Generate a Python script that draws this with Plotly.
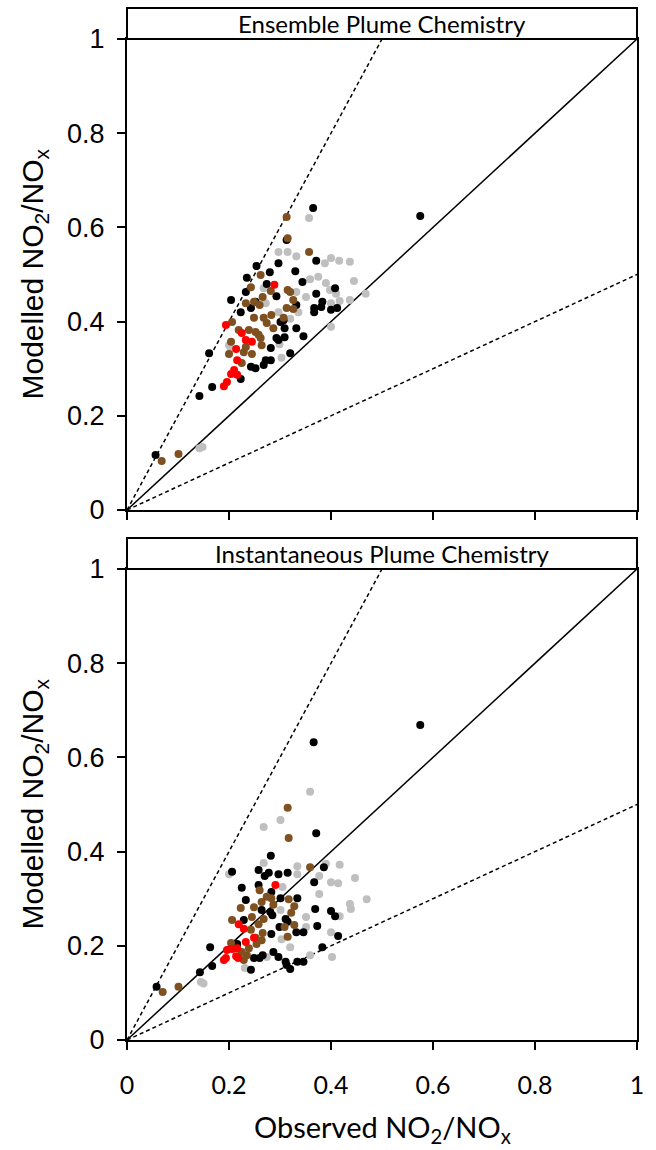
import plotly.graph_objects as go

# ---------------- data ----------------
top_black_x = [0.365, 0.575, 0.313, 0.371, 0.330, 0.344, 0.408, 0.371, 0.293, 0.332, 0.383, 0.381, 0.367, 0.367, 0.400, 0.412,
               0.307, 0.332, 0.309, 0.309, 0.346, 0.297, 0.320, 0.297, 0.280, 0.235, 0.254, 0.274, 0.233, 0.204, 0.252, 0.243,
               0.223, 0.301, 0.293, 0.282, 0.161, 0.272, 0.243, 0.252, 0.268, 0.282, 0.223, 0.167, 0.142, 0.056]
top_black_y = [0.641, 0.624, 0.573, 0.529, 0.507, 0.484, 0.471, 0.459, 0.454, 0.435, 0.442, 0.431, 0.429, 0.420, 0.425, 0.429,
               0.403, 0.386, 0.386, 0.367, 0.369, 0.361, 0.333, 0.524, 0.505, 0.493, 0.518, 0.480, 0.463, 0.446, 0.442, 0.429,
               0.420, 0.399, 0.365, 0.344, 0.333, 0.318, 0.304, 0.301, 0.308, 0.318, 0.278, 0.261, 0.242, 0.117]

top_brown_x = [0.313, 0.315, 0.357, 0.315, 0.320, 0.326, 0.313, 0.326, 0.307, 0.262, 0.243, 0.266, 0.249, 0.233, 0.260, 0.283,
               0.268, 0.249, 0.206, 0.219, 0.239, 0.252, 0.258, 0.262, 0.287, 0.274, 0.204, 0.233, 0.264, 0.200, 0.229, 0.245,
               0.225, 0.282, 0.068, 0.101]
top_brown_y = [0.622, 0.577, 0.548, 0.467, 0.463, 0.446, 0.429, 0.427, 0.408, 0.499, 0.473, 0.452, 0.442, 0.439, 0.435, 0.414,
               0.408, 0.408, 0.399, 0.382, 0.382, 0.378, 0.372, 0.365, 0.386, 0.397, 0.357, 0.346, 0.350, 0.331, 0.335, 0.331,
               0.312, 0.465, 0.104, 0.119]

top_red_x = [0.289, 0.194, 0.225, 0.233, 0.245, 0.214, 0.216, 0.210, 0.204, 0.216, 0.196, 0.190]
top_red_y = [0.478, 0.393, 0.376, 0.361, 0.357, 0.342, 0.318, 0.297, 0.289, 0.287, 0.272, 0.263]

top_gray_x = [0.357, 0.297, 0.315, 0.332, 0.388, 0.400, 0.416, 0.437, 0.359, 0.375, 0.390, 0.445, 0.332, 0.398, 0.410, 0.351,
              0.417, 0.437, 0.468, 0.400, 0.336, 0.297, 0.320, 0.400, 0.303, 0.268, 0.272, 0.200, 0.204, 0.299, 0.142, 0.148]
top_gray_y = [0.620, 0.548, 0.548, 0.539, 0.524, 0.535, 0.529, 0.527, 0.490, 0.495, 0.482, 0.486, 0.463, 0.467, 0.459, 0.452,
              0.444, 0.446, 0.459, 0.439, 0.420, 0.420, 0.406, 0.389, 0.323, 0.471, 0.439, 0.350, 0.342, 0.352, 0.131, 0.134]

bot_black_x = [0.366, 0.575, 0.058, 0.143, 0.167, 0.371, 0.297, 0.315, 0.367, 0.301, 0.334, 0.369, 0.400, 0.408, 0.311, 0.315,
               0.332, 0.346, 0.373, 0.414, 0.383, 0.297, 0.311, 0.313, 0.334, 0.346, 0.320, 0.282, 0.206, 0.258, 0.270, 0.278,
               0.225, 0.258, 0.283, 0.233, 0.264, 0.229, 0.281, 0.285, 0.283, 0.163, 0.216, 0.287, 0.249, 0.266, 0.260, 0.243,
               0.386, 0.299]
bot_black_y = [0.632, 0.669, 0.113, 0.144, 0.157, 0.439, 0.352, 0.355, 0.335, 0.301, 0.301, 0.278, 0.274, 0.263, 0.257, 0.251,
               0.229, 0.229, 0.242, 0.221, 0.197, 0.176, 0.166, 0.159, 0.166, 0.166, 0.151, 0.391, 0.357, 0.361, 0.348, 0.355,
               0.323, 0.329, 0.314, 0.297, 0.276, 0.255, 0.272, 0.265, 0.225, 0.197, 0.204, 0.187, 0.174, 0.180, 0.174, 0.149,
               0.367, 0.240]

bot_brown_x = [0.070, 0.101, 0.315, 0.317, 0.359, 0.317, 0.328, 0.322, 0.309, 0.328, 0.315, 0.260, 0.223, 0.249, 0.264, 0.274,
               0.283, 0.287, 0.245, 0.206, 0.268, 0.258, 0.243, 0.266, 0.252, 0.264, 0.204, 0.239, 0.254, 0.225, 0.235, 0.229]
bot_brown_y = [0.102, 0.113, 0.493, 0.429, 0.367, 0.299, 0.284, 0.270, 0.240, 0.244, 0.219, 0.318, 0.280, 0.282, 0.293, 0.304,
               0.301, 0.287, 0.261, 0.255, 0.257, 0.246, 0.234, 0.227, 0.217, 0.212, 0.206, 0.195, 0.204, 0.187, 0.180, 0.170]

bot_red_x = [0.291, 0.219, 0.229, 0.249, 0.233, 0.196, 0.206, 0.216, 0.214, 0.218, 0.194, 0.190]
bot_red_y = [0.329, 0.246, 0.236, 0.217, 0.208, 0.191, 0.193, 0.195, 0.178, 0.174, 0.174, 0.170]

bot_gray_x = [0.145, 0.359, 0.301, 0.334, 0.390, 0.417, 0.334, 0.377, 0.400, 0.414, 0.447, 0.377, 0.470, 0.437, 0.439, 0.417,
              0.301, 0.351, 0.351, 0.400, 0.303, 0.320, 0.359, 0.402, 0.268, 0.268, 0.200, 0.231, 0.274, 0.305, 0.150]
bot_gray_y = [0.123, 0.527, 0.467, 0.369, 0.374, 0.372, 0.352, 0.348, 0.335, 0.333, 0.344, 0.310, 0.299, 0.289, 0.278, 0.263,
              0.276, 0.261, 0.240, 0.229, 0.214, 0.197, 0.180, 0.176, 0.452, 0.376, 0.352, 0.153, 0.176, 0.325, 0.120]

ref_x = [0.0, 1.0]
ref_slopes = [1.0, 2.0, 0.5]
ref_dash = ["solid", "4px,3px", "4px,3px"]

tick_vals = [0, 0.2, 0.4, 0.6, 0.8, 1]
tick_text = ["0", "0.2", "0.4", "0.6", "0.8", "1"]

panel_titles = ["Ensemble Plume Chemistry", "Instantaneous Plume Chemistry"]
y_title = "Modelled NO<sub>2</sub>/NO<sub>x</sub>"
x_title = "Observed NO<sub>2</sub>/NO<sub>x</sub>"

colors = {"gray": "#BFBFBF", "black": "#000000", "brown": "#7F5020", "red": "#FF0000"}

panels = [
    (("gray", top_gray_x, top_gray_y), ("black", top_black_x, top_black_y),
     ("brown", top_brown_x, top_brown_y), ("red", top_red_x, top_red_y)),
    (("gray", bot_gray_x, bot_gray_y), ("black", bot_black_x, bot_black_y),
     ("brown", bot_brown_x, bot_brown_y), ("red", bot_red_x, bot_red_y)),
]

fig = go.Figure()
for i, series in enumerate(panels):
    xa = "x" if i == 0 else "x2"
    ya = "y" if i == 0 else "y2"
    for s, dash in zip(ref_slopes, ref_dash):
        fig.add_trace(go.Scatter(x=ref_x, y=[s * v for v in ref_x], mode="lines",
                                 line=dict(color="black", width=1.5, dash=dash),
                                 xaxis=xa, yaxis=ya, showlegend=False, hoverinfo="skip"))
    for name, xs, ys in series:
        fig.add_trace(go.Scatter(x=xs, y=ys, mode="markers",
                                 marker=dict(color=colors[name], size=8, line=dict(width=0)),
                                 xaxis=xa, yaxis=ya, showlegend=False, cliponaxis=False))

axis_common = dict(range=[0, 1], showgrid=False, zeroline=False, showline=True, linecolor="black",
                   linewidth=2, mirror=True, ticks="outside", ticklen=8, tickwidth=2, tickcolor="black",
                   tickvals=tick_vals, ticktext=tick_text, fixedrange=True)

h_frac = 471 / 1001
fig.update_layout(
    width=656, height=1150,
    margin=dict(l=127, r=14, t=39, b=110),
    paper_bgcolor="white", plot_bgcolor="white",
    xaxis=dict(axis_common, domain=[0, 1], anchor="y", showticklabels=False),
    yaxis=dict(axis_common, domain=[1 - h_frac, 1], anchor="x",
               tickfont=dict(family="Liberation Sans, Arial", size=27, color="black"), ticklabelstandoff=7),
    xaxis2=dict(axis_common, domain=[0, 1], anchor="y2",
                tickfont=dict(family="Lato", size=25, color="black"), ticklabelstandoff=14),
    yaxis2=dict(axis_common, domain=[0, h_frac], anchor="x2",
                tickfont=dict(family="Liberation Sans, Arial", size=27, color="black"), ticklabelstandoff=7),
    showlegend=False,
)

box_h = 31 / 471
shapes = []
annotations = []
for i, title in enumerate(panel_titles):
    xd = "x domain" if i == 0 else "x2 domain"
    yd = "y domain" if i == 0 else "y2 domain"
    shapes.append(dict(type="rect", xref=xd, yref=yd, x0=0, x1=1, y0=1, y1=1 + box_h,
                       line=dict(color="black", width=2), fillcolor="white", layer="above"))
    annotations.append(dict(text=title, xref=xd, yref=yd, x=0.5, y=1 + box_h / 2, showarrow=False,
                            xanchor="center", yanchor="middle",
                            font=dict(family="Lato", size=24, color="black")))
    annotations.append(dict(text=y_title, xref="paper", yref=yd, x=0, xshift=-93, y=0.5, showarrow=False,
                            textangle=-90, xanchor="center", yanchor="middle",
                            font=dict(family="Liberation Sans, Arial", size=30, color="black")))
annotations.append(dict(text=x_title, xref="x2 domain", yref="paper", x=0.5, y=0, yshift=-88, showarrow=False,
                        xanchor="center", yanchor="middle",
                        font=dict(family="Lato", size=29, color="black")))
fig.update_layout(shapes=shapes, annotations=annotations)

fig.write_html("out.html")
